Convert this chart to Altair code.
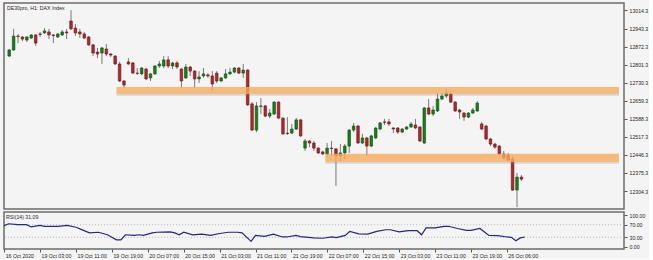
import altair as alt
import pandas as pd

# ---------------- data ----------------
bars = list(range(117))
opens = [12835, 12859, 12914, 12910, 12898, 12906, 12918, 12922, 12926, 12930,
         12918, 12910, 12918, 12930, 12973, 12945, 12930, 12922, 12910, 12879,
         12851, 12847, 12863, 12843, 12835, 12804, 12737, 12812, 12808, 12768,
         12765, 12784, 12749, 12765, 12796, 12796, 12820, 12796, 12808, 12784,
         12749, 12792, 12776, 12745, 12757, 12761, 12757, 12768, 12737, 12749,
         12765, 12772, 12788, 12768, 12780, 12647, 12544, 12639, 12639, 12599,
         12607, 12654, 12591, 12532, 12532, 12548, 12584, 12473, 12501, 12493,
         12473, 12458, 12450, 12473, 12470, 12442, 12454, 12481, 12544, 12560,
         12493, 12513, 12481, 12513, 12548, 12576, 12576, 12552, 12552, 12536,
         12548, 12556, 12564, 12556, 12493, 12631, 12607, 12619, 12666, 12678,
         12686, 12654, 12623, 12611, 12595, 12611, 12619, 12568, 12560, 12509,
         12489, 12481, 12450, 12446, 12430, 12308, 12359]
closes = [12859, 12914, 12912, 12902, 12910, 12918, 12886, 12920, 12934, 12918,
          12916, 12922, 12930, 12926, 12942, 12926, 12922, 12906, 12879, 12847,
          12843, 12867, 12843, 12839, 12804, 12737, 12721, 12804, 12768, 12767,
          12788, 12745, 12765, 12796, 12804, 12820, 12796, 12808, 12792, 12737,
          12792, 12776, 12745, 12753, 12765, 12757, 12725, 12737, 12749, 12765,
          12772, 12788, 12768, 12780, 12643, 12544, 12639, 12637, 12599, 12611,
          12654, 12591, 12529, 12530, 12548, 12584, 12521, 12501, 12493, 12473,
          12454, 12450, 12473, 12471, 12442, 12454, 12481, 12544, 12560, 12493,
          12513, 12481, 12521, 12552, 12572, 12574, 12568, 12548, 12536, 12548,
          12556, 12568, 12552, 12501, 12631, 12607, 12623, 12666, 12678, 12690,
          12654, 12619, 12615, 12595, 12611, 12623, 12650, 12548, 12509, 12489,
          12477, 12450, 12434, 12426, 12308, 12359, 12351]
highs = [12863, 12942, 12922, 12914, 12914, 12922, 12922, 12930, 12945, 12942,
         12922, 12926, 12938, 12942, 13016, 12961, 12942, 12930, 12914, 12883,
         12867, 12871, 12883, 12847, 12839, 12812, 12741, 12827, 12812, 12788,
         12792, 12788, 12768, 12800, 12816, 12835, 12835, 12812, 12816, 12788,
         12804, 12796, 12780, 12776, 12788, 12768, 12776, 12776, 12753, 12784,
         12788, 12792, 12792, 12804, 12784, 12654, 12654, 12670, 12643, 12627,
         12658, 12658, 12595, 12595, 12568, 12591, 12588, 12509, 12505, 12501,
         12477, 12462, 12493, 12501, 12473, 12489, 12489, 12548, 12572, 12564,
         12529, 12517, 12525, 12556, 12576, 12588, 12588, 12556, 12556, 12552,
         12560, 12576, 12588, 12560, 12635, 12666, 12639, 12690, 12690, 12706,
         12698, 12658, 12627, 12615, 12615, 12631, 12658, 12576, 12564, 12513,
         12493, 12485, 12462, 12454, 12442, 12375, 12367]
lows = [12831, 12855, 12886, 12894, 12890, 12902, 12875, 12910, 12922, 12902,
        12886, 12906, 12914, 12902, 12938, 12914, 12906, 12902, 12875, 12835,
        12827, 12804, 12835, 12831, 12800, 12733, 12709, 12800, 12765, 12761,
        12761, 12741, 12737, 12761, 12788, 12788, 12788, 12784, 12784, 12709,
        12745, 12757, 12709, 12729, 12749, 12749, 12698, 12729, 12733, 12745,
        12761, 12768, 12765, 12749, 12639, 12540, 12536, 12607, 12595, 12591,
        12603, 12588, 12525, 12525, 12529, 12544, 12517, 12462, 12477, 12462,
        12450, 12446, 12442, 12442, 12324, 12422, 12430, 12454, 12536, 12489,
        12489, 12442, 12477, 12509, 12544, 12564, 12560, 12532, 12529, 12532,
        12544, 12552, 12548, 12497, 12489, 12603, 12599, 12615, 12662, 12670,
        12650, 12615, 12588, 12580, 12591, 12607, 12615, 12544, 12505, 12481,
        12470, 12442, 12430, 12422, 12304, 12241, 12344]

# RSI(14) points
rsi_bars = [0, 1, 3, 5, 6, 8, 9, 12, 14, 16, 17, 19, 21, 23, 25, 26, 27, 29, 30, 31,
            33, 34, 37, 38, 39, 40, 42, 44, 46, 48, 50, 52, 53, 55, 56, 58, 60, 62, 63,
            65, 66, 69, 71, 73, 74, 76, 77, 79, 81, 83, 85, 86, 88, 90, 92, 93, 94, 96,
            98, 99, 101, 103, 104, 106, 108, 110, 112, 113, 114, 115, 116]
rsi_vals = [67, 73, 70, 70, 63, 68, 65, 65, 68, 62, 56, 44, 46, 38, 22, 22, 38, 36, 38, 36,
            44, 46, 47, 44, 38, 46, 38, 40, 36, 42, 46, 46, 44, 17, 36, 33, 40, 31, 31,
            36, 32, 28, 27, 31, 29, 36, 49, 41, 40, 49, 54, 54, 47, 51, 51, 38, 60, 60,
            65, 65, 58, 52, 52, 58, 36, 35, 31, 30, 19, 28, 31]

# support / resistance zones (bar where the zone starts, price range)
zone_start = [24.3, 71.6]
zone_end = [138.1, 138.1]
zone_low = [12686, 12418]
zone_high = [12713, 12451]

price_ticks = [13014.3, 12943.3, 12872.3, 12801.3, 12730.3, 12659.3,
               12588.3, 12517.3, 12446.3, 12375.3, 12304.3]
rsi_ticks = [0, 30, 70, 100]
rsi_levels = [30, 70]
time_tick_bars = [0, 8, 16, 24, 32, 40, 48, 56, 64, 72, 80, 88, 96, 104, 112]
time_tick_labels = ["16 Oct 2020", "19 Oct 03:00", "19 Oct 11:00", "19 Oct 19:00",
                    "20 Oct 07:00", "20 Oct 15:00", "21 Oct 03:00", "21 Oct 11:00",
                    "21 Oct 19:00", "22 Oct 07:00", "22 Oct 15:00", "23 Oct 03:00",
                    "23 Oct 11:00", "23 Oct 19:00", "26 Oct 06:00"]

title_text = "DE30pro, H1:  DAX Index"
rsi_text = "RSI(14) 31.09"

# ---------------- build ----------------
df = pd.DataFrame(dict(bar=bars, open=opens, high=highs, low=lows, close=closes))
df["dir"] = ["up" if c >= o else "down" for o, c in zip(opens, closes)]
zones = pd.DataFrame(dict(x1=zone_start, x2=zone_end, lo=zone_low, hi=zone_high))
rsi = pd.DataFrame(dict(bar=rsi_bars, rsi=rsi_vals))
levels = pd.DataFrame(dict(level=rsi_levels))

FONT = "Liberation Sans"
FS = 5.2
TXT = "#262626"
W = 620

xscale = alt.Scale(domain=[-0.045, 138.1], nice=False, zero=False)
yscale = alt.Scale(domain=[12233.5, 13043.8], nice=False, zero=False)
rscale = alt.Scale(domain=[-7.3, 110.5], nice=False, zero=False)

fill_scale = alt.Scale(domain=["up", "down"], range=["#16801a", "#b3262a"])
stroke_scale = alt.Scale(domain=["up", "down"], range=["#0b4d0d", "#6e1215"])

common_axis = dict(title=None, domain=False, grid=False, tickSize=3, tickColor="#555555",
                   labelFont=FONT, labelFontSize=FS, labelColor=TXT,
                   labelOverlap=False, labelFlush=False, labelBound=False)

price_axis = alt.Axis(orient="right", values=price_ticks, format=".1f", labelPadding=2,
                      **common_axis)

wick = alt.Chart(df).mark_rule(color="#7a7a7a", strokeWidth=1, clip=True).encode(
    x=alt.X("bar:Q", scale=xscale, axis=None),
    y=alt.Y("low:Q", scale=yscale, axis=price_axis),
    y2="high:Q",
)
body = alt.Chart(df).mark_bar(size=2.6, strokeWidth=0.6, clip=True).encode(
    x=alt.X("bar:Q", scale=xscale, axis=None),
    y=alt.Y("open:Q", scale=yscale, axis=price_axis),
    y2="close:Q",
    fill=alt.Fill("dir:N", scale=fill_scale, legend=None),
    stroke=alt.Stroke("dir:N", scale=stroke_scale, legend=None),
)
zone_shadow = alt.Chart(zones).transform_calculate(
    slo="datum.lo - 7"
).mark_rect(color="#8c8c8c", opacity=0.28, clip=True).encode(
    x=alt.X("x1:Q", scale=xscale, axis=None), x2="x2:Q",
    y=alt.Y("slo:Q", scale=yscale, axis=price_axis), y2="lo:Q",
)
zone = alt.Chart(zones).mark_rect(color="#f8ab5f", opacity=0.8, clip=True).encode(
    x=alt.X("x1:Q", scale=xscale, axis=None), x2="x2:Q",
    y=alt.Y("lo:Q", scale=yscale, axis=price_axis), y2="hi:Q",
)
title_mark = alt.Chart(pd.DataFrame({"t": [title_text]})).mark_text(
    align="left", baseline="middle", font=FONT, fontSize=FS, color=TXT
).encode(x=alt.value(3), y=alt.value(4.8), text="t:N")

main = alt.layer(wick, body, zone_shadow, zone, title_mark).properties(width=W, height=206)

label_expr = "[" + ",".join("'%s'" % s for s in time_tick_labels) + "][round(datum.value/8)]"
time_axis = alt.Axis(orient="bottom", values=time_tick_bars, labelExpr=label_expr,
                     labelAlign="left", labelBaseline="top", labelPadding=1, labelOffset=1,
                     **common_axis)
rsi_axis = alt.Axis(orient="right", values=rsi_ticks, format=".2f", labelPadding=2,
                    **common_axis)

lvl = alt.Chart(levels).mark_rule(color="#a8a8a8", strokeWidth=0.8, strokeDash=[1, 2]).encode(
    y=alt.Y("level:Q", scale=rscale, axis=rsi_axis)
)
rsi_line = alt.Chart(rsi).mark_line(color="#25258f", strokeWidth=1.2, clip=True).encode(
    x=alt.X("bar:Q", scale=xscale, axis=time_axis),
    y=alt.Y("rsi:Q", scale=rscale, axis=rsi_axis),
)
rsi_label = alt.Chart(pd.DataFrame({"t": [rsi_text]})).mark_text(
    align="left", baseline="middle", font=FONT, fontSize=FS, color=TXT
).encode(x=alt.value(2), y=alt.value(5), text="t:N")

lower = alt.layer(lvl, rsi_line, rsi_label).properties(width=W, height=37)

chart = alt.vconcat(main, lower, spacing=1).properties(
    padding={"left": 2, "top": 2, "right": 0, "bottom": 0},
    background="#f4f4f4",
).configure_view(
    stroke="#6b6b6b", strokeWidth=1.5, fill="#f4f4f4"
)

chart.save("out.html", embed_options={"renderer": "svg", "actions": False})
